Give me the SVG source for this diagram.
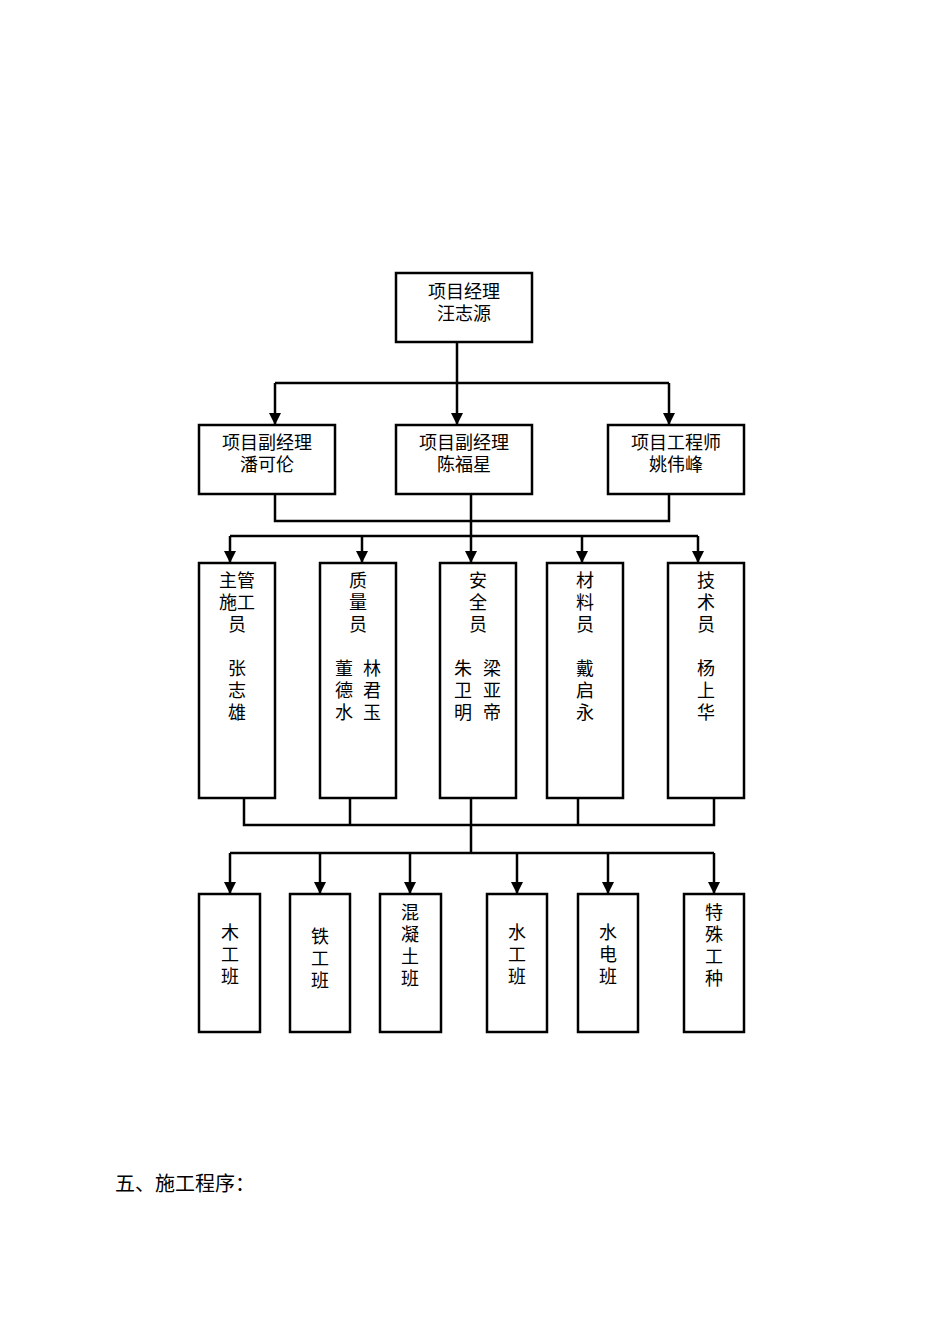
<svg xmlns="http://www.w3.org/2000/svg" width="950" height="1344" viewBox="0 0 950 1344">
<style>
rect{fill:#fff;stroke:#000;stroke-width:2.5}
text{font-family:"Liberation Serif","Noto Sans CJK SC",serif;font-size:18px;text-anchor:middle;fill:#000}
.c path,.c line{stroke:#000;stroke-width:2.5;fill:none}
</style>
<defs><marker id="a" viewBox="0 0 10 10" refX="10" refY="5" markerWidth="5" markerHeight="5" markerUnits="strokeWidth" orient="auto"><path d="M0,0L10,5L0,10z" fill="#000"/></marker></defs>
<rect width="950" height="1344" style="stroke:none"/>
<g class="c">
<path d="M457,342V383M275,383H669"/>
<line x1="275" y1="383" x2="275" y2="425" marker-end="url(#a)"/>
<line x1="457" y1="383" x2="457" y2="425" marker-end="url(#a)"/>
<line x1="669" y1="383" x2="669" y2="425" marker-end="url(#a)"/>
<path d="M275,494V521H669V494M471,494V536M230,536H698"/>
<line x1="230" y1="536" x2="230" y2="563" marker-end="url(#a)"/>
<line x1="362" y1="536" x2="362" y2="563" marker-end="url(#a)"/>
<line x1="471" y1="536" x2="471" y2="563" marker-end="url(#a)"/>
<line x1="582" y1="536" x2="582" y2="563" marker-end="url(#a)"/>
<line x1="698" y1="536" x2="698" y2="563" marker-end="url(#a)"/>
<path d="M244,798V825H714V798M350,798V825M471,798V853M578,798V825M230,853H714"/>
<line x1="230" y1="853" x2="230" y2="894" marker-end="url(#a)"/>
<line x1="320" y1="853" x2="320" y2="894" marker-end="url(#a)"/>
<line x1="410" y1="853" x2="410" y2="894" marker-end="url(#a)"/>
<line x1="517" y1="853" x2="517" y2="894" marker-end="url(#a)"/>
<line x1="608" y1="853" x2="608" y2="894" marker-end="url(#a)"/>
<line x1="714" y1="853" x2="714" y2="894" marker-end="url(#a)"/>
</g>
<g id="pm"><rect x="396" y="273" width="136" height="69"/><text x="464" y="298">项目经理</text><text x="464" y="320">汪志源</text></g>
<g id="d1"><rect x="199" y="425" width="136" height="69"/><text x="267" y="449">项目副经理</text><text x="267" y="471">潘可伦</text></g>
<g id="d2"><rect x="396" y="425" width="136" height="69"/><text x="464" y="449">项目副经理</text><text x="464" y="471">陈福星</text></g>
<g id="d3"><rect x="608" y="425" width="136" height="69"/><text x="676" y="449">项目工程师</text><text x="676" y="471">姚伟峰</text></g>
<g id="s1"><rect x="199" y="563" width="76" height="235"/><text x="237" y="587">主管</text><text x="237" y="609">施工</text><text x="237" y="631">员</text><text x="237" y="675">张</text><text x="237" y="697">志</text><text x="237" y="719">雄</text></g>
<g id="s2"><rect x="320" y="563" width="76" height="235"/><text x="358" y="587">质</text><text x="358" y="609">量</text><text x="358" y="631">员</text><text x="344" y="675">董</text><text x="344" y="697">德</text><text x="344" y="719">水</text><text x="372" y="675">林</text><text x="372" y="697">君</text><text x="372" y="719">玉</text></g>
<g id="s3"><rect x="440" y="563" width="76" height="235"/><text x="478" y="587">安</text><text x="478" y="609">全</text><text x="478" y="631">员</text><text x="463" y="675">朱</text><text x="463" y="697">卫</text><text x="463" y="719">明</text><text x="492" y="675">梁</text><text x="492" y="697">亚</text><text x="492" y="719">帝</text></g>
<g id="s4"><rect x="547" y="563" width="76" height="235"/><text x="585" y="587">材</text><text x="585" y="609">料</text><text x="585" y="631">员</text><text x="585" y="675">戴</text><text x="585" y="697">启</text><text x="585" y="719">永</text></g>
<g id="s5"><rect x="668" y="563" width="76" height="235"/><text x="706" y="587">技</text><text x="706" y="609">术</text><text x="706" y="631">员</text><text x="706" y="675">杨</text><text x="706" y="697">上</text><text x="706" y="719">华</text></g>
<g id="t1"><rect x="199" y="894" width="61" height="138"/><text x="230" y="939">木</text><text x="230" y="961">工</text><text x="230" y="983">班</text></g>
<g id="t2"><rect x="290" y="894" width="60" height="138"/><text x="320" y="943">铁</text><text x="320" y="965">工</text><text x="320" y="987">班</text></g>
<g id="t3"><rect x="380" y="894" width="61" height="138"/><text x="410" y="919">混</text><text x="410" y="941">凝</text><text x="410" y="963">土</text><text x="410" y="985">班</text></g>
<g id="t4"><rect x="487" y="894" width="60" height="138"/><text x="517" y="939">水</text><text x="517" y="961">工</text><text x="517" y="983">班</text></g>
<g id="t5"><rect x="578" y="894" width="60" height="138"/><text x="608" y="939">水</text><text x="608" y="961">电</text><text x="608" y="983">班</text></g>
<g id="t6"><rect x="684" y="894" width="60" height="138"/><text x="714" y="919">特</text><text x="714" y="941">殊</text><text x="714" y="963">工</text><text x="714" y="985">种</text></g>
<text x="115" y="1191" style="text-anchor:start;font-size:20px">五、施工程序：</text>
</svg>
